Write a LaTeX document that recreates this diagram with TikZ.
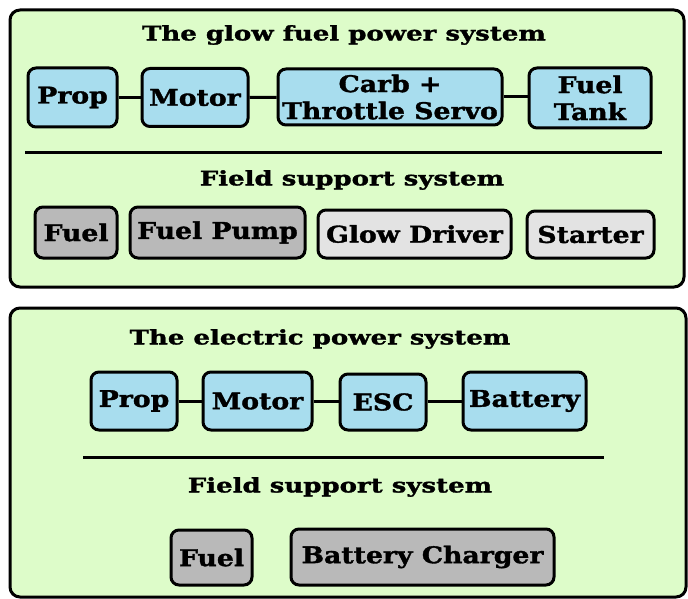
\documentclass[tikz,border=0pt]{standalone}
\usepackage{fontspec}
\setmainfont{DejaVu Serif}
\newfontfamily\boxfont[FakeStretch=1.16,FakeBold=1.5]{DejaVu Serif Bold}
\newfontfamily\headfont[FakeStretch=1.3,FakeBold=1.5]{DejaVu Serif Bold}
\definecolor{panelgreen}{HTML}{DDFCC9}
\definecolor{boxblue}{HTML}{A8DDEE}
\definecolor{boxdark}{HTML}{B9B9B9}
\definecolor{boxlight}{HTML}{E3E3E3}
\tikzset{
  panel/.style={draw=black, line width=3pt, fill=panelgreen, rounded corners=10pt},
  part/.style={draw=black, line width=3pt, rounded corners=8pt, align=center,
    inner sep=0pt, font=\boxfont\fontsize{23}{27}\selectfont},
  bluebox/.style={part, fill=boxblue},
  darkbox/.style={part, fill=boxdark},
  lightbox/.style={part, fill=boxlight},
  heading/.style={font=\headfont\fontsize{20}{22}\selectfont, inner sep=0pt},
  link/.style={line width=3pt},
  rule/.style={line width=3pt}
}
\begin{document}
\begin{tikzpicture}[x=1pt,y=-1pt]
\useasboundingbox (0,0) rectangle (688,599);
\fill[white] (0,0) rectangle (688,599);
% top panel
\draw[panel] (10,10) rectangle (684,287);
\node[heading] (t1) at (344,35) {The glow fuel power system};
\node[bluebox, minimum width=89pt, minimum height=59pt] (prop1) at (72.5,97.5) {Prop};
\node[bluebox, minimum width=106pt, minimum height=58pt] (motor1) at (195,97.5) {Motor};
\node[bluebox, minimum width=224pt, minimum height=56pt] (carb) at (390,97) {Carb +\\Throttle Servo};
\node[bluebox, minimum width=122pt, minimum height=60pt] (tank) at (590,98) {Fuel\\Tank};
\draw[link] (prop1) -- (motor1);
\draw[link] (motor1) -- (carb);
\draw[link] (carb.east) -- (tank.west |- carb.east);
\coordinate (r1a) at (25,153);
\coordinate (r1b) at (662,153);
\draw[rule] (r1a) -- (r1b);
\node[heading] (f1) at (352,180) {Field support system};
\node[darkbox, minimum width=82pt, minimum height=51pt] (fuel1) at (76,232.5) {Fuel};
\node[darkbox, minimum width=175pt, minimum height=51pt] (pump) at (217.5,232.5) {Fuel Pump};
\node[lightbox, minimum width=193pt, minimum height=48pt] (glow) at (414.5,234) {Glow Driver};
\node[lightbox, minimum width=127pt, minimum height=47pt] (starter) at (590.5,234.5) {Starter};
% bottom panel
\draw[panel] (10,308) rectangle (686,597);
\node[heading] (t2) at (320,339) {The electric power system};
\node[bluebox, minimum width=86pt, minimum height=58pt] (prop2) at (134,401) {Prop};
\node[bluebox, minimum width=109pt, minimum height=58pt] (motor2) at (257.5,401) {Motor};
\node[bluebox, minimum width=86pt, minimum height=56pt] (esc) at (383,402) {ESC};
\node[bluebox, minimum width=123pt, minimum height=58pt] (battery) at (524.5,401) {Battery};
\draw[link] (prop2) -- (motor2);
\draw[link] (motor2) -- (esc.west |- motor2.east);
\draw[link] (esc.east |- battery.west) -- (battery);
\coordinate (r2a) at (83,457);
\coordinate (r2b) at (604,457);
\draw[rule] (r2a) -- (r2b);
\node[heading] (f2) at (340,487) {Field support system};
\node[darkbox, minimum width=81pt, minimum height=55pt] (fuel2) at (211.5,557.5) {Fuel};
\node[darkbox, minimum width=263pt, minimum height=56pt] (charger) at (422.5,557) {Battery Charger};
\end{tikzpicture}
\end{document}
